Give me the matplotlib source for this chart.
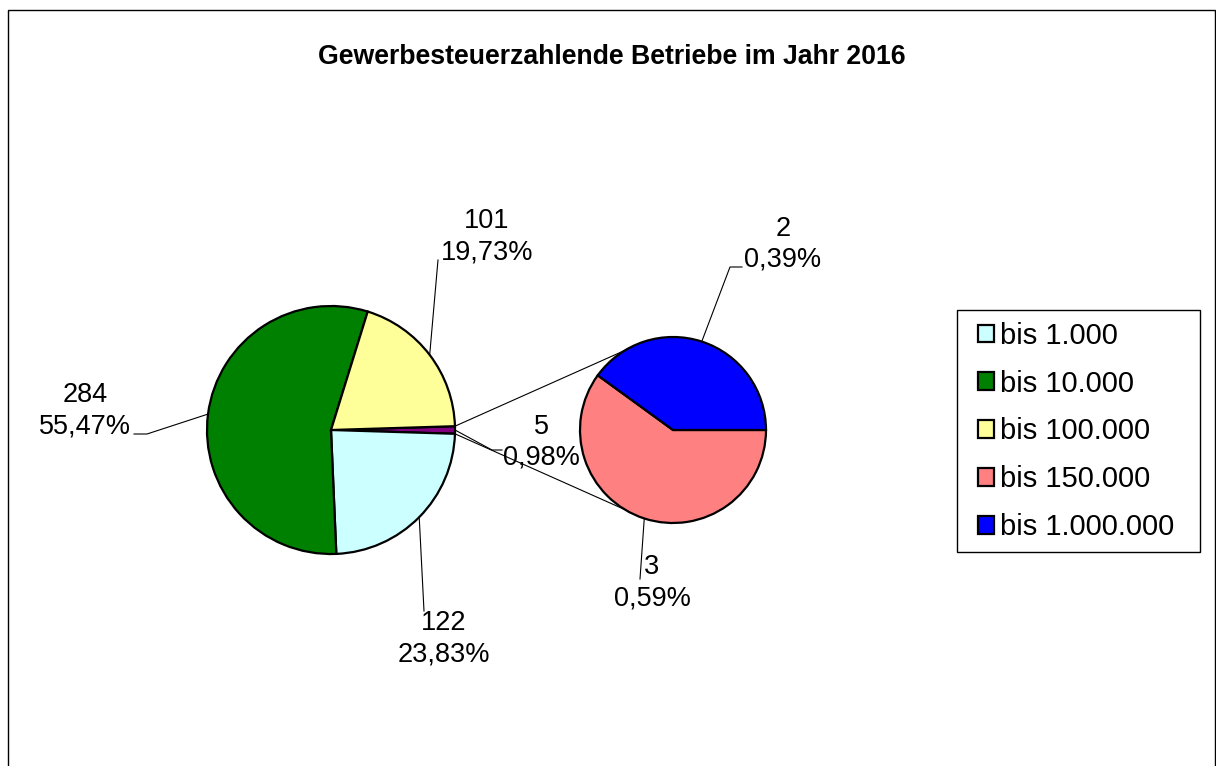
import matplotlib; matplotlib.use("Agg")
import matplotlib.pyplot as plt
import numpy as np
from matplotlib.patches import Rectangle

plt.rcParams['font.family'] = ['Liberation Sans', 'DejaVu Sans']

# data
kategorien = ["bis 1.000", "bis 10.000", "bis 100.000", "bis 150.000", "bis 1.000.000"]
anzahl = [122, 284, 101, 3, 2]
farben = ["#CCFFFF", "#008000", "#FFFF99", "#FF8080", "#0000FF"]
farbe_rest = "#800080"
titel = "Gewerbesteuerzahlende Betriebe im Jahr 2016"

gesamt = sum(anzahl)
haupt = anzahl[:3]
neben = anzahl[3:]
rest = sum(neben)

def fmt(v):
    return f"{v}\n{v/gesamt*100:.2f}%".replace(".", ",")

W, H = 1216, 766
fig = plt.figure(figsize=(W/100, H/100), dpi=100)
ax = fig.add_axes([0, 0, 1, 1])

def Y(y):  # image row -> data y
    return H - y

c1, r1 = (331, Y(430)), 124
c2, r2 = (673, Y(430)), 93
halb = 360*rest/gesamt/2
kw = dict(edgecolor="black", linewidth=1.6)

# main pie: rest slice centered at 3 o'clock, then clockwise
w1, _ = ax.pie([rest] + haupt, colors=[farbe_rest] + farben[:3], center=c1, radius=r1,
               startangle=halb, counterclock=False, wedgeprops=kw, frame=True)
# second pie
w2, _ = ax.pie(neben, colors=farben[3:], center=c2, radius=r2,
               startangle=144, counterclock=True, wedgeprops=kw, frame=True)
ax.set_xlim(0, W); ax.set_ylim(0, H); ax.axis("off")

def pol(c, r, a):
    return c[0] + r*np.cos(np.radians(a)), c[1] + r*np.sin(np.radians(a))

# connector lines
for s in (1, -1):
    p0 = pol(c1, r1, s*halb)
    p1 = pol(c2, r2, s*121)
    ax.plot([p0[0], p1[0]], [p0[1], p1[1]], color="black", lw=0.8)

def mitte(w):
    return (w.theta1 + w.theta2)/2

# labels: (wedge, center, radius, value, text pos, leader points)
etiketten = [
    (w1[2], c1, r1, haupt[1], (85, Y(411)), [(147, Y(434)), (134, Y(434))]),
    (w1[3], c1, r1, haupt[2], (487, Y(237)), [(438, Y(260))]),
    (w1[1], c1, r1, haupt[0], (444, Y(639)), [(424, Y(611))]),
    (w1[0], c1, r1, rest, (541, Y(442)), [(492, Y(450)), (502, Y(450))]),
    (w2[1], c2, r2, neben[1], (783, Y(244)), [(730, Y(267)), (742, Y(267))]),
    (w2[0], c2, r2, neben[0], (652, Y(583)), [(640, Y(579))]),
]
for w, c, r, v, pos, pts in etiketten:
    p0 = pol(c, r, mitte(w))
    xs = [p0[0]] + [p[0] for p in pts]
    ys = [p0[1]] + [p[1] for p in pts]
    ax.plot(xs, ys, color="black", lw=0.8)
    ax.text(pos[0], pos[1], fmt(v), ha="center", va="center", fontsize=19.5,
            linespacing=1.25)

ax.text(612, Y(57), titel, ha="center", va="center", fontsize=19.2, fontweight="bold")

handles = [w1[1], w1[2], w1[3], w2[0], w2[1]]
leg = fig.legend(handles, kategorien, loc="upper left", bbox_to_anchor=(969/W, 1 - 313/H),
                 fontsize=21, frameon=False,
                 handlelength=0.55, handleheight=0.55, handletextpad=0.2,
                 labelspacing=0.68, borderpad=0.3, borderaxespad=0)
ax.add_patch(Rectangle((957, Y(552)), 243, 242, fill=False, edgecolor="black", lw=1.0))

ax.add_patch(Rectangle((8, -5), 1207, H - 10 + 5, fill=False, edgecolor="black", lw=1.0))

fig.savefig("out.png", dpi=100)
